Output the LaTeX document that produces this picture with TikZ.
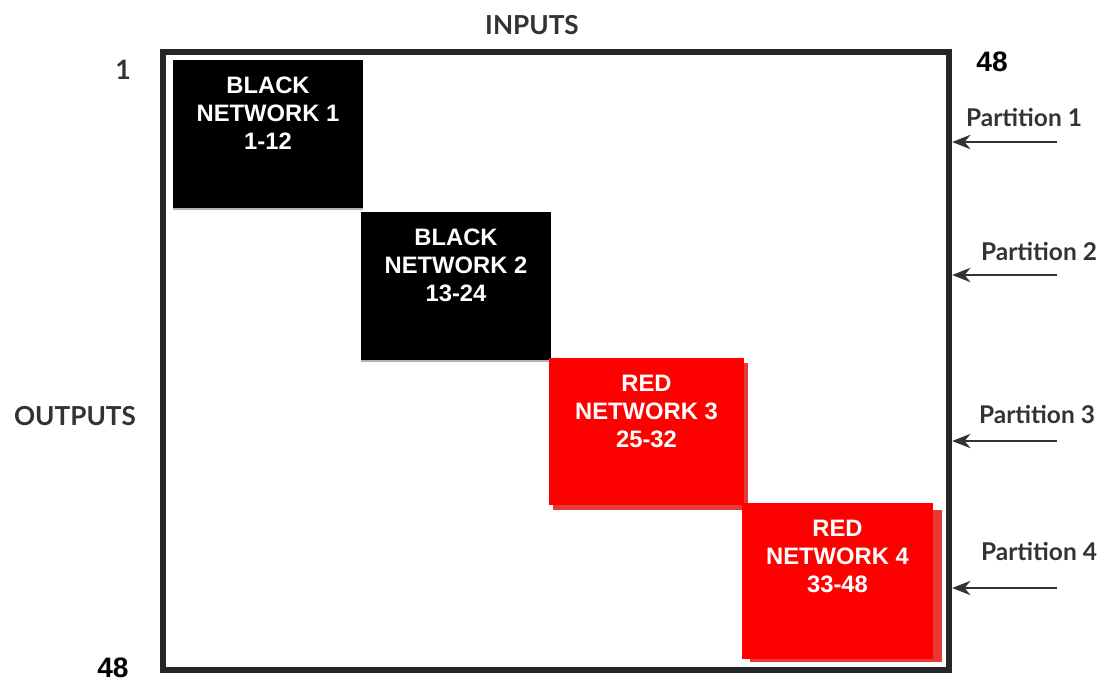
\documentclass[tikz,border=0pt]{standalone}
\usepackage{fontspec}
\setmainfont{Liberation Sans}
\newfontfamily\gillfont{Lato}
\usepackage{tikz}
\usetikzlibrary{arrows.meta, positioning, shadows}
\definecolor{framegrey}{HTML}{262626}
\definecolor{labelgrey}{HTML}{333333}
\definecolor{netred}{HTML}{FF0000}
\definecolor{shadowred}{HTML}{E63B35}
\tikzset{
  frame/.style={rectangle, draw=framegrey, line width=4.3pt, inner sep=0pt,
    minimum width=19.65cm, minimum height=15.45cm},
  netblock/.style={rectangle, inner sep=0pt, minimum width=4.75cm, minimum height=3.7cm},
  blackNet/.style={netblock, fill=black,
    drop shadow={shadow xshift=0pt, shadow yshift=-1.2pt, fill=black!30, opacity=1}},
  redNet/.style={netblock, fill=netred},
  nettext/.style={anchor=north, align=center, text=white, inner sep=0pt,
    font=\fontsize{16.9}{19.9}\selectfont\bfseries},
  axislabel/.style={font=\gillfont\fontsize{18.6}{22}\selectfont\bfseries, text=labelgrey, anchor=base},
  partlabel/.style={font=\gillfont\fontsize{17.4}{19}\selectfont\bfseries, text=labelgrey, anchor=base},
  partarrow/.style={-{Stealth[length=4.6mm, width=3.6mm]}, line width=1.4pt, labelgrey},
  bignum/.style={font=\fontsize{20}{22}\selectfont\bfseries, anchor=base, inner sep=0.5pt},
}

\begin{document}
\begin{tikzpicture}[x=0.025cm, y=-0.025cm]
\useasboundingbox (0,0) rectangle (1099,683);

% outer matrix
\node[frame] (matrix) at (556,361) {};
\node[axislabel] (inputs) at (532,35) {INPUTS};
\node[axislabel] (outputs) at (75,425) {OUTPUTS};
\node[axislabel, font=\gillfont\fontsize{19}{22}\selectfont\bfseries] (topone) at (123,79) {1};
\node[bignum] (topnum) at (992,72) {48};
\node[bignum] (botnum) at (113,677) {48};

% networks
\fill[shadowred] (553,363) rectangle (748,510);
\fill[shadowred] (750,510) rectangle (942,662);
\node[blackNet] (net1) at (268,134) {};
\node[blackNet] (net2) at (456,286) {};
\node[redNet, minimum width=4.875cm, minimum height=3.675cm] (net3) at (646.5,431.5) {};
\node[redNet, minimum width=4.775cm, minimum height=3.9cm] (net4) at (837.5,581) {};

\node[nettext, below=0.425cm of net1.north] (net1txt) {BLACK\\NETWORK 1\\1-12};
\node[nettext, below=0.425cm of net2.north] (net2txt) {BLACK\\NETWORK 2\\13-24};
\node[nettext, below=0.425cm of net3.north] (net3txt) {RED\\NETWORK 3\\25-32};
\node[nettext, below=0.425cm of net4.north] (net4txt) {RED\\NETWORK 4\\33-48};

% partitions
\coordinate (p1) at (1057,142);
\coordinate (p2) at (1057,275);
\coordinate (p3) at (1057,441);
\coordinate (p4) at (1057,588);
\node[partlabel] (part1) at (1024,127) {Partition 1};
\node[partlabel] (part2) at (1039,260) {Partition 2};
\node[partlabel] (part3) at (1037,423) {Partition 3};
\node[partlabel] (part4) at (1039,560) {Partition 4};

\draw[partarrow] (p1) -- (p1 -| matrix.east);
\draw[partarrow] (p2) -- (p2 -| matrix.east);
\draw[partarrow] (p3) -- (p3 -| matrix.east);
\draw[partarrow] (p4) -- (p4 -| matrix.east);
\end{tikzpicture}
\end{document}
